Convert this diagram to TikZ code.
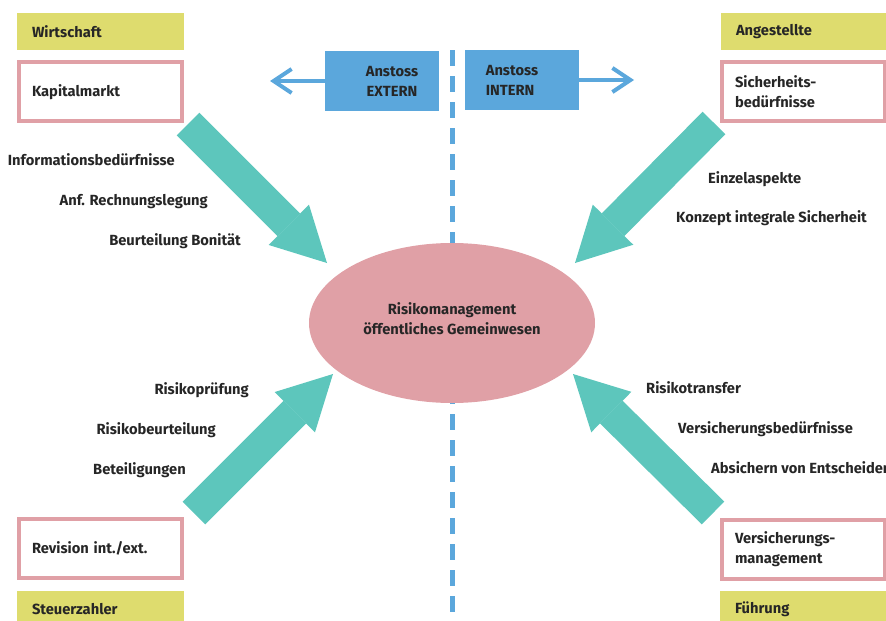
\documentclass[tikz,border=0pt]{standalone}
\usepackage{fontspec}
\setmainfont{Fira Sans}
\usetikzlibrary{shapes.geometric,arrows.meta,positioning}
\definecolor{yel}{HTML}{DEDC6E}
\definecolor{rose}{HTML}{E0A0A6}
\definecolor{sky}{HTML}{5BA7DC}
\definecolor{mint}{HTML}{5DC6BC}
\definecolor{ink}{HTML}{262626}
\tikzset{
  txt/.style={font=\fontsize{14.7}{20}\selectfont\bfseries, text=ink},
  tag/.style={txt, fill=yel, minimum height=37pt, text width=137pt, inner xsep=15pt, inner ysep=0pt, align=left},
  topic/.style={txt, draw=rose, line width=4pt, minimum height=59pt, text width=137pt, inner xsep=13pt, inner ysep=0pt, align=left},
  push/.style={fill=sky, minimum width=114pt, minimum height=60pt, inner sep=0pt},
  kw/.style={txt, inner sep=0pt},
  bigarrow/.style={mint, line width=32pt, -{Triangle[length=54pt, width=57pt, line width=0pt]}},
  thinarrow/.style={sky, line width=4pt, -{Straight Barb[length=18pt, width=24pt]}},
}
\begin{document}
\begin{tikzpicture}[x=1pt, y=-1pt]
    \useasboundingbox (0,0) rectangle (886,621);

    % dividing line
    \coordinate (divtop) at (452,50);
    \coordinate (divbot) at (452,621);
    \draw[sky, line width=5pt, dash pattern=on 16pt off 10pt] (divtop) -- (divbot);

    % centre
    \node[ellipse, fill=rose, minimum width=286pt, minimum height=160pt, inner sep=0pt,
          label={[txt, align=center, yshift=4pt]center:{Risikomanagement\\öffentliches Gemeinwesen}}] (risk) at (452,323) {};

    % corners
    \node[tag] (wirt) at (100.5,31.5) {Wirtschaft};
    \node[topic, below=10pt of wirt] (kap) {Kapitalmarkt};
    \node[tag] (ang) at (804.5,31.5) {Angestellte};
    \node[topic, below=10pt of ang, xshift=-1pt] (sich) {Sicherheits-\\bedürfnisse};
    \node[tag] (steu) at (100.5,609.5) {Steuerzahler};
    \node[topic, above=11pt of steu] (rev) {Revision int./ext.};
    \node[tag] (fuehr) at (803.5,609.5) {Führung};
    \node[topic, above=10pt of fuehr] (vers) {Versicherungs-\\management};

    % Anstoss
    \node[push, label={[txt, align=center, xshift=10pt]center:{Anstoss\\EXTERN}}] (ext) at (382,81) {};
    \node[push, label={[txt, align=left, xshift=-10pt]center:{Anstoss\\INTERN}}] (int) at (522,80) {};
    \coordinate (extend) at (270,81);
    \coordinate (intend) at (634,80);
    \draw[thinarrow] (ext.west) -- (extend);
    \draw[thinarrow] (int.east) -- (intend);

    % block arrows
    \coordinate (tailnw) at (188,124);
    \coordinate (tipnw) at (327,263);
    \coordinate (tailne) at (714,123);
    \coordinate (tipne) at (575,263);
    \coordinate (tailsw) at (194,513);
    \coordinate (tipsw) at (333,374);
    \coordinate (tailse) at (713,513);
    \coordinate (tipse) at (573,374);
    \draw[bigarrow] (tailnw) -- (tipnw);
    \draw[bigarrow] (tailne) -- (tipne);
    \draw[bigarrow] (tailsw) -- (tipsw);
    \draw[bigarrow] (tailse) -- (tipse);

    % keywords
    \node[kw, anchor=base east] (info) at (175,165) {Informationsbedürfnisse};
    \node[kw, anchor=base east] (rech) at (208,205) {Anf. Rechnungslegung};
    \node[kw, anchor=base east] (boni) at (241,245) {Beurteilung Bonität};
    \node[kw, anchor=base west] (einz) at (708,183) {Einzelaspekte};
    \node[kw, anchor=base west] (konz) at (676,222) {Konzept integrale Sicherheit};
    \node[kw, anchor=base east] (rpruef) at (249,394) {Risikoprüfung};
    \node[kw, anchor=base east] (rbeur) at (216,434) {Risikobeurteilung};
    \node[kw, anchor=base east] (bet) at (186,474) {Beteiligungen};
    \node[kw, anchor=base west] (rtrans) at (646,393) {Risikotransfer};
    \node[kw, anchor=base west] (vbed) at (678,433) {Versicherungsbedürfnisse};
    \node[kw, anchor=base west] (absi) at (711,473) {Absichern von Entscheiden};
\end{tikzpicture}
\end{document}
